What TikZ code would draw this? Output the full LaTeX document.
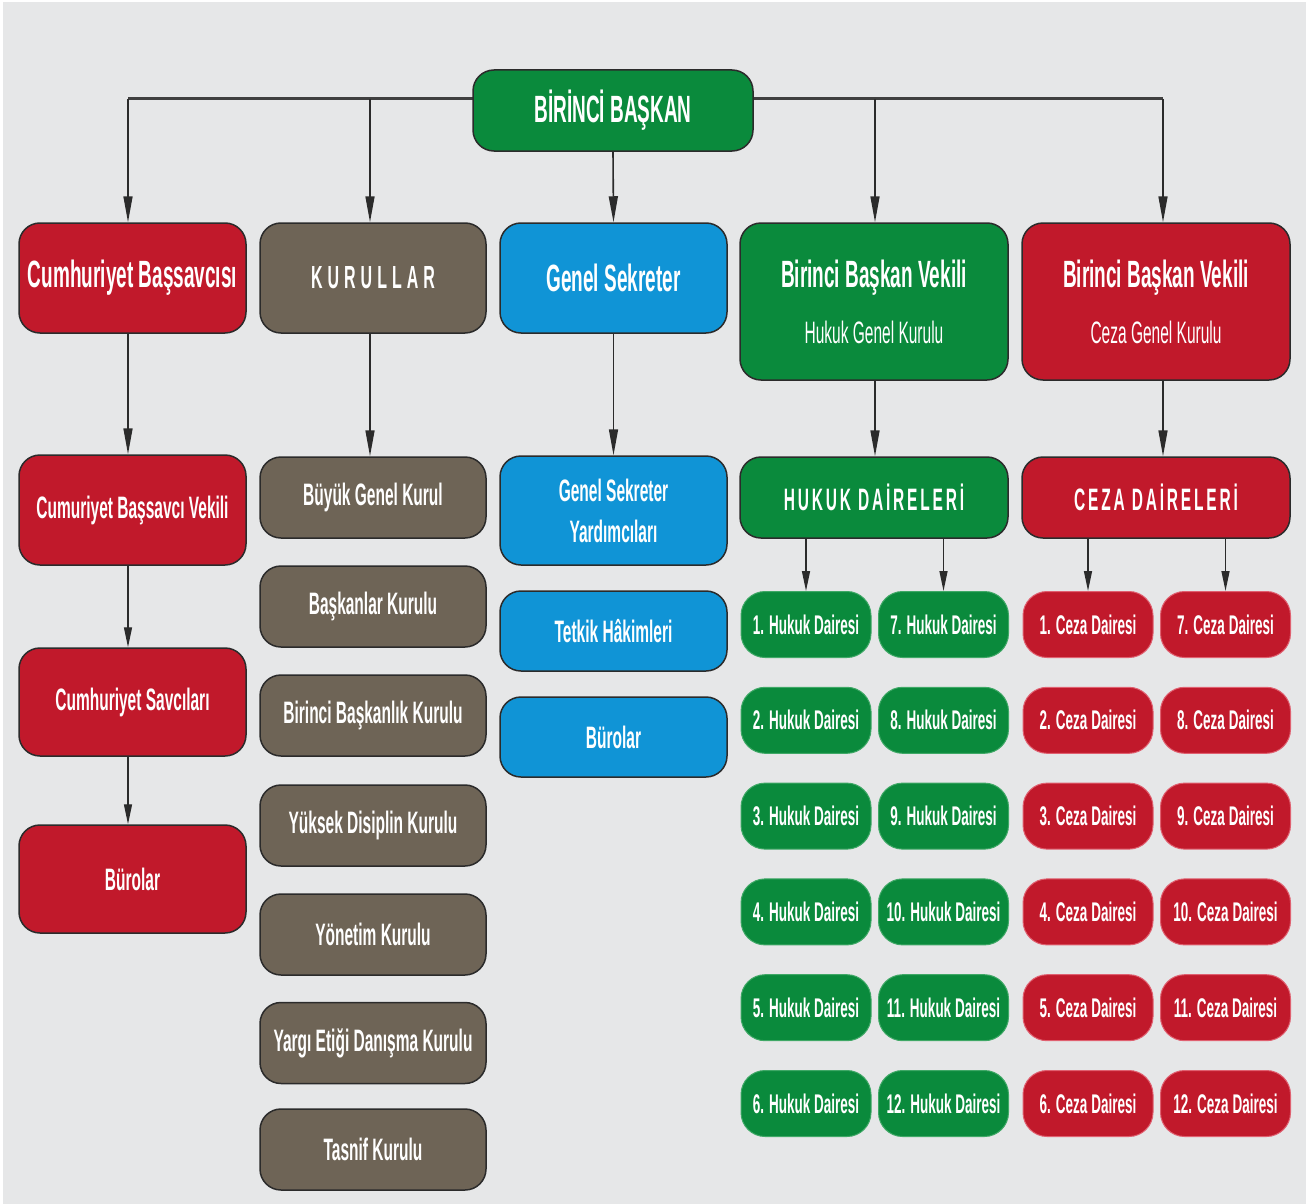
\documentclass[tikz,border=0pt]{standalone}
\usepackage{fontspec}
\setmainfont{Liberation Sans}[FakeStretch=0.5]
\usetikzlibrary{arrows.meta}
\definecolor{bgc}{HTML}{E6E7E8}
\definecolor{grc}{HTML}{0A8A3C}
\definecolor{grl}{HTML}{3FA866}
\definecolor{rdc}{HTML}{C1192B}
\definecolor{rdl}{HTML}{E06070}
\definecolor{brc}{HTML}{6E6456}
\definecolor{blc}{HTML}{1094D6}
\definecolor{lnc}{HTML}{2B2B2B}
\pgfdeclarelayer{back}
\pgfdeclarelayer{lines}
\pgfsetlayers{back,lines,main}
\tikzset{
  box/.style={rectangle, rounded corners=21pt, draw=lnc, line width=1.5pt, text=white,
    inner sep=0pt, align=center, font=\bfseries\fontsize{31}{41}\selectfont},
  head/.style={box, font=\bfseries\fontsize{38}{44}\selectfont},
  smallbox/.style={rectangle, rounded corners=24pt, line width=1pt, text=white, inner sep=0pt,
    minimum height=66, align=center, font=\bfseries\fontsize{27}{32}\selectfont},
  hsmall/.style={smallbox, fill=grc, draw=grl, minimum width=130},
  csmall/.style={smallbox, fill=rdc, draw=rdl, minimum width=130},
  arr/.style={draw=lnc, line width=1.6pt, -{Triangle[length=26pt,width=9pt]}},
  sarr/.style={draw=lnc, line width=1.4pt, -{Triangle[length=20pt,width=8pt]}},
  hline/.style={draw=lnc!90, line width=3pt}
}
\newcommand{\spacedword}[2]{\def\mysep{#1}\spacedi#2\relax}
\def\spacedi#1{\ifx#1\relax\else#1\kern\mysep\expandafter\spacedi\fi}
\begin{document}
\begin{tikzpicture}[x=1pt,y=-1pt]
\useasboundingbox (0,0) rectangle (1306,1204);
\begin{pgfonlayer}{back}
\fill[bgc] (0,0) rectangle (1306,1204);
\fill[white] (0,0) rectangle (3,1204);
\fill[white] (0,0) rectangle (1306,2);
\end{pgfonlayer}

% top
\node[head, fill=grc, minimum width=280, minimum height=81] (tb) at (613,110.5) {BİRİNCİ BAŞKAN};

% left column
\node[head, fill=rdc, minimum width=227, minimum height=110] (cb) at (132.5,278) {Cumhuriyet Başsavcısı};
\node[box, fill=rdc, minimum width=227, minimum height=110] (cbv) at (132.5,510) {Cumuriyet Başsavcı Vekili};
\node[box, fill=rdc, minimum width=227, minimum height=108] (cs) at (132.5,702) {Cumhuriyet Savcıları};
\node[box, fill=rdc, minimum width=227, minimum height=108] (cbur) at (132.5,879) {Bürolar};

% kurullar column
\node[box, fill=brc, minimum width=226, minimum height=110, font=\bfseries\fontsize{32}{38}\selectfont] (kur) at (373,278) {\spacedword{5pt}{KURULLA}R};
\node[box, fill=brc, minimum width=226, minimum height=81] (k1) at (373,497.5) {Büyük Genel Kurul};
\node[box, fill=brc, minimum width=226, minimum height=81] (k2) at (373,606.5) {Başkanlar Kurulu};
\node[box, fill=brc, minimum width=226, minimum height=81] (k3) at (373,715.5) {Birinci Başkanlık Kurulu};
\node[box, fill=brc, minimum width=226, minimum height=81] (k4) at (373,825.5) {Yüksek Disiplin Kurulu};
\node[box, fill=brc, minimum width=226, minimum height=81] (k5) at (373,934.5) {Yönetim Kurulu};
\node[box, fill=brc, minimum width=226, minimum height=81] (k6) at (373,1043) {Yargı Etiği Danışma Kurulu};
\node[box, fill=brc, minimum width=226, minimum height=81] (k7) at (373,1149.5) {Tasnif Kurulu};

% genel sekreter column
\node[head, fill=blc, minimum width=227, minimum height=110] (gs) at (613.5,278) {Genel Sekreter};
\node[box, fill=blc, minimum width=227, minimum height=109] (gs1) at (613.5,510.5) {Genel Sekreter\\Yardımcıları};
\node[box, fill=blc, minimum width=227, minimum height=80] (gs2) at (613.5,631) {Tetkik Hâkimleri};
\node[box, fill=blc, minimum width=227, minimum height=80] (gs3) at (613.5,737) {Bürolar};

% hukuk
\node[head, fill=grc, minimum width=268, minimum height=157] (bv1) at (874,301.5)
  {Birinci Başkan Vekili\\[12pt]{\mdseries\fontsize{31}{36}\selectfont Hukuk Genel Kurulu}};
\node[box, fill=grc, minimum width=268, minimum height=81] (hd) at (874,497.5)
  {\spacedword{2.8pt}{HUKUK}\ \spacedword{2.8pt}{DAİRELER}İ};
% ceza
\node[head, fill=rdc, minimum width=268, minimum height=157] (bv2) at (1156,301.5)
  {Birinci Başkan Vekili\\[12pt]{\mdseries\fontsize{31}{36}\selectfont Ceza Genel Kurulu}};
\node[box, fill=rdc, minimum width=268, minimum height=81] (cd) at (1156,497.5)
  {\spacedword{2.8pt}{CEZA}\ \spacedword{2.8pt}{DAİRELER}İ};

\foreach \a/\b [count=\r from 0] in {1/7,2/8,3/9,4/10,5/11,6/12}{
  \node[hsmall] (h\a) at (806,624.5+95.8*\r) {\a. Hukuk Dairesi};
  \node[hsmall] (h\b) at (943.5,624.5+95.8*\r) {\b. Hukuk Dairesi};
  \node[csmall] (c\a) at (1088,624.5+95.8*\r) {\a. Ceza Dairesi};
  \node[csmall] (c\b) at (1225.5,624.5+95.8*\r) {\b. Ceza Dairesi};
}

\coordinate (top) at (613,99);
\begin{pgfonlayer}{lines}
\draw[hline] ([xshift=-4.5]cb.north |- top) -- ([xshift=7]bv2.north |- top);
\draw[arr] ([xshift=-4.5]cb.north |- top) -- ([xshift=-4.5]cb.north);
\draw[arr] ([xshift=-3]kur.north |- top) -- ([xshift=-3]kur.north);
\draw[arr] (tb.south) -- (gs.north);
\draw[arr] ([xshift=1]bv1.north |- top) -- ([xshift=1]bv1.north);
\draw[arr] ([xshift=7]bv2.north |- top) -- ([xshift=7]bv2.north);

\draw[arr] ([xshift=-4.5]cb.south) -- ([xshift=-4.5]cbv.north);
\draw[sarr] ([xshift=-4.5]cbv.south) -- ([xshift=-4.5]cs.north);
\draw[sarr] ([xshift=-4.5]cs.south) -- ([xshift=-4.5]cbur.north);
\draw[arr] ([xshift=-3]kur.south) -- ([xshift=-3]k1.north);
\draw[arr] (gs.south) -- (gs1.north);
\draw[arr] ([xshift=1]bv1.south) -- ([xshift=1]hd.north);
\draw[arr] ([xshift=7]bv2.south) -- ([xshift=7]cd.north);

\draw[sarr] (hd.south -| h1.north) -- (h1.north);
\draw[sarr] (hd.south -| h7.north) -- (h7.north);
\draw[sarr] (cd.south -| c1.north) -- (c1.north);
\draw[sarr] (cd.south -| c7.north) -- (c7.north);
\end{pgfonlayer}
\end{tikzpicture}
\end{document}
